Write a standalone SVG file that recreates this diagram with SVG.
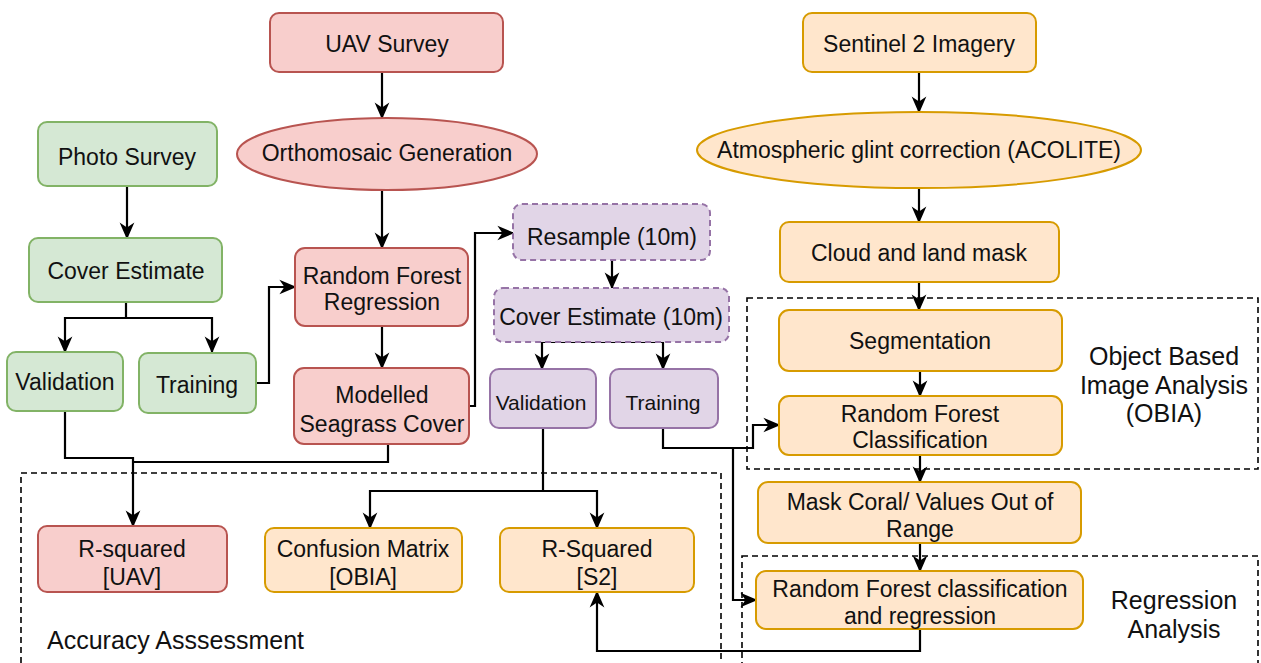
<svg xmlns="http://www.w3.org/2000/svg" width="1261" height="663" viewBox="0 0 1261 663">
<defs>
<marker id="arr" viewBox="0 0 12 12" refX="11" refY="6" markerWidth="17" markerHeight="17" markerUnits="userSpaceOnUse" orient="auto">
<path d="M0,0.8 L12,6 L0,11.2 L3.5,6 z" fill="#000"/>
</marker>
<style>
text{font-family:"Liberation Sans",Arial,sans-serif;font-size:23px;fill:#111;text-anchor:middle;dominant-baseline:central}
.red{fill:#f8cecc;stroke:#b85450;stroke-width:2}
.green{fill:#d5e8d4;stroke:#82b366;stroke-width:2}
.orange{fill:#ffe6cc;stroke:#d79b00;stroke-width:2}
.purple{fill:#e1d5e7;stroke:#9673a6;stroke-width:2}
.dash{stroke-dasharray:6 4}
.grp{fill:none;stroke:#000;stroke-width:1.6;stroke-dasharray:6 4}
.c{fill:none;stroke:#000;stroke-width:2.2}
.a{marker-end:url(#arr)}
.glbl{font-size:25px}
.lbl{text-anchor:start;font-size:25px}
.sm{font-size:21px}
</style>
</defs>
<rect width="1261" height="663" fill="#fff"/>
<g id="groups">
<rect class="grp" x="747" y="298" width="511" height="171"/>
<rect class="grp" x="742" y="556" width="516" height="130"/>
<rect class="grp" x="21" y="473" width="700" height="210"/>
<text class="glbl" x="1164" y="356">Object Based</text>
<text class="glbl" x="1164" y="385">Image Analysis</text>
<text class="glbl" x="1164" y="413">(OBIA)</text>
<text class="glbl" x="1174" y="600">Regression</text>
<text class="glbl" x="1174" y="629">Analysis</text>
<text class="lbl" x="47" y="640">Accuracy Asssessment</text>
</g>
<g id="connectors">
<path class="c a" d="M382,72 V118"/>
<path class="c a" d="M382,189 V248"/>
<path class="c a" d="M382,326 V368"/>
<path class="c a" d="M127,186 V238"/>
<path class="c a" d="M126,302 V318 H65 V352"/>
<path class="c a" d="M126,318 H212 V352"/>
<path class="c a" d="M256,383 H269 V287 H295"/>
<path class="c a" d="M469,406 H475 V233 H513"/>
<path class="c a" d="M612,260 V288"/>
<path class="c a" d="M603,342 H542 V369"/>
<path class="c a" d="M603,342 H663 V369"/>
<path class="c a" d="M543,428 V491 H370 V528"/>
<path class="c a" d="M543,491 H597 V528"/>
<path class="c a" d="M663,428 V448 H753 V425 H779"/>
<path class="c a" d="M733,448 V600 H756"/>
<path class="c a" d="M920,629 V651 H597 V592"/>
<path class="c a" d="M65,411 V458 H133 V526"/>
<path class="c" d="M388,444 V462 H133"/>
<path class="c a" d="M919,72 V112"/>
<path class="c a" d="M919,189 V222"/>
<path class="c a" d="M919,282 V310"/>
<path class="c a" d="M920,371 V396"/>
<path class="c a" d="M920,455 V482"/>
<path class="c a" d="M920,543 V571"/>
</g>
<g id="uav-survey"><rect class="red" x="270" y="13" width="233" height="59" rx="9"/><text x="387" y="44">UAV Survey</text></g>
<g id="orthomosaic"><ellipse class="red" cx="387" cy="154" rx="150" ry="36"/><text x="387" y="153">Orthomosaic Generation</text></g>
<g id="photo-survey"><rect class="green" x="38" y="122" width="179" height="64" rx="9"/><text x="127" y="157">Photo Survey</text></g>
<g id="cover-estimate"><rect class="green" x="29" y="238" width="193" height="64" rx="9"/><text x="126" y="271">Cover Estimate</text></g>
<g id="validation-green"><rect class="green" x="7" y="352" width="116" height="59" rx="9"/><text x="65" y="382">Validation</text></g>
<g id="training-green"><rect class="green" x="139" y="353" width="117" height="60" rx="9"/><text x="197" y="385">Training</text></g>
<g id="rf-regression"><rect class="red" x="295" y="248" width="173" height="78" rx="10"/><text x="382" y="276">Random Forest</text><text x="382" y="302">Regression</text></g>
<g id="modelled"><rect class="red" x="294" y="368" width="175" height="76" rx="10"/><text x="382" y="395">Modelled</text><text x="382" y="424">Seagrass Cover</text></g>
<g id="resample"><rect class="purple dash" x="513" y="204" width="197" height="56" rx="9"/><text x="612" y="237">Resample (10m)</text></g>
<g id="cover-10m"><rect class="purple dash" x="494" y="288" width="235" height="54" rx="9"/><text x="611" y="317">Cover Estimate (10m)</text></g>
<g id="validation-purple"><rect class="purple" x="490" y="369" width="106" height="59" rx="9"/><text class="sm" x="541" y="402">Validation</text></g>
<g id="training-purple"><rect class="purple" x="610" y="369" width="108" height="59" rx="9"/><text class="sm" x="663" y="402">Training</text></g>
<g id="r-squared-uav"><rect class="red" x="38" y="526" width="189" height="66" rx="9"/><text x="132" y="549">R-squared</text><text x="132" y="577">[UAV]</text></g>
<g id="confusion-matrix"><rect class="orange" x="265" y="528" width="197" height="64" rx="9"/><text x="363" y="549">Confusion Matrix</text><text x="363" y="577">[OBIA]</text></g>
<g id="r-squared-s2"><rect class="orange" x="500" y="528" width="194" height="64" rx="9"/><text x="597" y="549">R-Squared</text><text x="597" y="577">[S2]</text></g>
<g id="sentinel"><rect class="orange" x="803" y="13" width="233" height="59" rx="9"/><text x="919" y="44">Sentinel 2 Imagery</text></g>
<g id="atmospheric"><ellipse class="orange" cx="919" cy="150" rx="222" ry="38"/><text x="919" y="150">Atmospheric glint correction (ACOLITE)</text></g>
<g id="cloud-mask"><rect class="orange" x="780" y="222" width="279" height="60" rx="9"/><text x="919" y="253">Cloud and land mask</text></g>
<g id="segmentation"><rect class="orange" x="779" y="310" width="283" height="61" rx="10"/><text x="920" y="341">Segmentation</text></g>
<g id="rf-classification"><rect class="orange" x="779" y="396" width="283" height="59" rx="10"/><text x="920" y="414">Random Forest</text><text x="920" y="440">Classification</text></g>
<g id="mask-coral"><rect class="orange" x="758" y="482" width="323" height="61" rx="10"/><text x="920" y="502">Mask Coral/ Values Out of</text><text x="920" y="529">Range</text></g>
<g id="rf-class-regr"><rect class="orange" x="756" y="571" width="327" height="58" rx="10"/><text x="920" y="589">Random Forest classification</text><text x="920" y="616">and regression</text></g>
</svg>
